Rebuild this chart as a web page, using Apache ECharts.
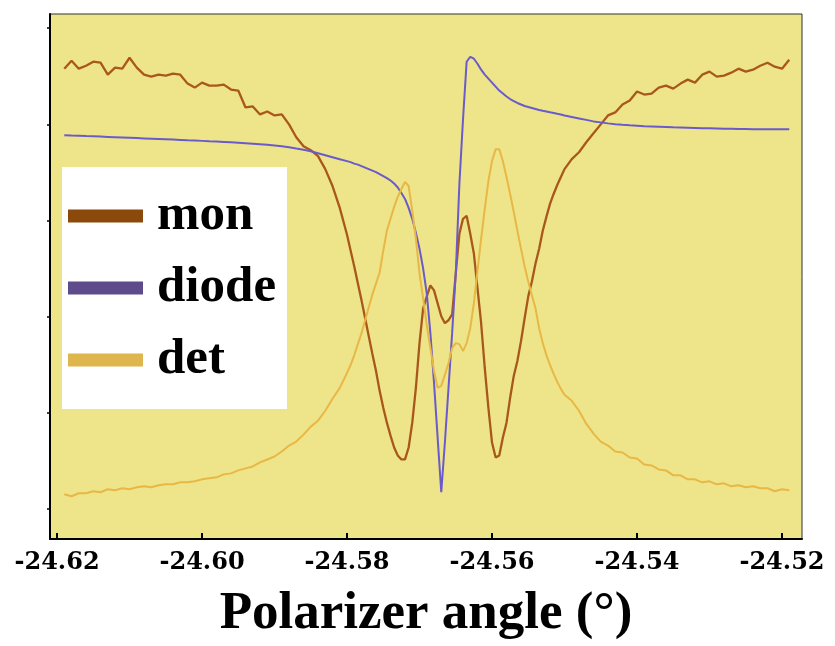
<!DOCTYPE html>
<html><head><meta charset="utf-8">
<script src="https://cdn.jsdelivr.net/npm/echarts@6/dist/echarts.min.js"></script>
<style>html,body{margin:0;padding:0;background:#fff}#c{width:835px;height:646px}</style>
</head><body><div id="c"></div>
<script>
const angles=[-24.619,-24.618,-24.617,-24.616,-24.615,-24.614,-24.613,-24.612,-24.611,-24.610,-24.609,-24.608,-24.607,-24.606,-24.605,-24.604,-24.603,-24.602,-24.601,-24.600,-24.599,-24.598,-24.597,-24.596,-24.595,-24.594,-24.593,-24.592,-24.591,-24.590,-24.589,-24.588,-24.587,-24.586,-24.585,-24.584,-24.583,-24.582,-24.581,
-24.5800,-24.5795,-24.5790,-24.5785,-24.5780,-24.5775,-24.5770,-24.5765,-24.5760,-24.5755,-24.5750,-24.5745,-24.5740,-24.5735,-24.5730,-24.5725,-24.5720,-24.5715,-24.5710,-24.5705,-24.5700,-24.5695,-24.5690,-24.5685,-24.5680,-24.5675,-24.5670,-24.5665,-24.5660,-24.5655,-24.5650,-24.5645,-24.5640,-24.5635,-24.5630,-24.5625,-24.5620,-24.5615,-24.5610,-24.5605,-24.5600,-24.5595,-24.5590,-24.5585,-24.5580,-24.5575,-24.5570,-24.5565,-24.5560,-24.5555,-24.5550,-24.5545,-24.5540,-24.5535,-24.5530,-24.5525,-24.5520,-24.5515,-24.5510,-24.5505,-24.5500,
-24.549,-24.548,-24.547,-24.546,-24.545,-24.544,-24.543,-24.542,-24.541,-24.540,-24.539,-24.538,-24.537,-24.536,-24.535,-24.534,-24.533,-24.532,-24.531,-24.530,-24.529,-24.528,-24.527,-24.526,-24.525,-24.524,-24.523,-24.522,-24.521,-24.520,-24.519];
const mon=[47.3,48.1,47.3,47.6,48.0,47.9,46.7,47.4,47.3,48.4,47.4,46.7,46.5,46.7,46.6,46.8,46.7,45.8,45.4,45.9,45.6,45.6,45.7,45.2,45.1,43.4,43.5,42.7,43.0,42.6,42.7,41.7,40.4,39.5,39.1,38.5,37.2,35.5,33.3,
30.6,29.0,27.4,25.7,24.0,22.2,20.4,18.6,16.9,14.9,13.2,11.7,10.4,9.2,8.4,8.0,8.0,9.2,11.7,15.2,19.7,23.2,24.4,25.5,25.0,23.7,22.4,21.7,22.0,22.6,26.7,30.7,32.2,32.5,30.7,28.7,25.2,21.7,17.2,13.2,9.7,8.2,8.4,10.2,11.7,14.2,16.4,17.9,19.9,22.2,24.4,25.9,27.7,29.2,31.0,32.4,33.7,34.7,35.6,36.4,37.2,
38.2,38.9,39.9,40.8,41.7,42.6,42.9,43.7,44.1,45.0,44.7,44.8,45.4,45.6,45.3,45.8,46.2,45.9,46.7,47.0,46.5,46.6,46.9,47.3,47.0,47.2,47.6,47.9,47.5,47.3,48.2];
const diode=[40.6,40.57,40.55,40.52,40.5,40.47,40.44,40.41,40.38,40.35,40.32,40.29,40.26,40.23,40.2,40.17,40.14,40.1,40.07,40.04,40.0,39.97,39.93,39.89,39.85,39.8,39.75,39.7,39.64,39.57,39.5,39.4,39.27,39.15,39.0,38.8,38.6,38.4,38.2,
38.0,37.9,37.75,37.65,37.5,37.35,37.2,37.05,36.9,36.7,36.5,36.3,36.05,35.75,35.35,34.8,34.2,33.3,32.2,30.8,29.2,27.2,24.7,20.7,15.7,10.2,4.7,9.7,15.2,20.7,26.7,35.7,42.2,48.0,48.5,48.3,47.8,47.2,46.7,46.3,45.9,45.5,45.1,44.8,44.5,44.25,44.05,43.85,43.7,43.55,43.45,43.35,43.25,43.15,43.07,43.0,42.92,42.85,42.77,42.7,42.6,
42.45,42.3,42.15,42.0,41.9,41.8,41.72,41.65,41.6,41.56,41.52,41.49,41.46,41.43,41.4,41.38,41.36,41.34,41.32,41.3,41.28,41.26,41.25,41.24,41.23,41.22,41.21,41.2,41.2,41.2,41.2];
const det=[4.5,4.3,4.6,4.6,4.8,4.7,5.0,4.9,5.1,5.0,5.2,5.3,5.2,5.4,5.5,5.5,5.7,5.7,5.8,6.0,6.1,6.2,6.5,6.6,6.9,7.1,7.3,7.7,8.0,8.3,8.8,9.4,9.8,10.5,11.3,11.9,12.9,14.1,15.2,
16.7,17.5,18.5,19.6,20.7,22.0,23.3,24.6,25.7,26.8,29.0,31.0,32.2,33.4,34.4,35.2,35.9,35.5,33.0,30.2,26.7,24.2,21.5,19.2,16.9,15.2,15.4,16.5,17.7,19.2,19.7,19.6,18.9,19.7,21.2,23.7,27.0,30.2,33.2,36.0,38.0,39.2,39.2,38.0,36.4,34.7,32.9,31.0,29.2,27.4,25.9,24.5,23.2,21.2,19.7,18.5,17.5,16.6,15.8,15.1,14.5,
13.9,12.9,11.6,10.6,9.8,9.4,8.8,8.7,8.2,8.1,7.5,7.4,7.0,6.9,6.4,6.4,6.0,6.0,5.7,5.8,5.5,5.6,5.3,5.4,5.2,5.3,5.1,5.1,4.8,5.0,4.9];
const xTicks=[-24.62,-24.60,-24.58,-24.56,-24.54,-24.52];
const yTicks=[3,12.7,22.4,32.0,41.7,51.4];

const pairs=v=>angles.map((a,i)=>[a,v[i]]);
const chart=echarts.init(document.getElementById('c'),null,{renderer:'canvas'});
chart.setOption({
  animation:false,
  backgroundColor:'#fff',
  grid:{left:50,right:33,top:14,bottom:104,show:true,backgroundColor:'#EEE48A',borderColor:'#333',borderWidth:1},
  legend:{
    data:[{name:'mon',itemStyle:{color:'#8B4A0B'}},{name:'diode',itemStyle:{color:'#5E4B8B'}},{name:'det',itemStyle:{color:'#DFB54E'}}],
    orient:'vertical',left:62,top:167,backgroundColor:'#fff',padding:[23,11,23,6],
    itemWidth:75,itemHeight:13,itemGap:20,icon:'rect',selectedMode:false,
    itemStyle:{borderWidth:0},
    textStyle:{fontFamily:'Liberation Serif',fontWeight:'bold',fontSize:51,lineHeight:52,color:'#000',padding:[0,0,0,9]}
  },
  xAxis:{type:'value',min:-24.62097,max:-24.51724,
    axisLine:{show:true,onZero:false,lineStyle:{color:'#000',width:2}},
    axisTick:{show:true,inside:true,length:6,customValues:xTicks,lineStyle:{color:'#000',width:2}},
    axisLabel:{customValues:xTicks,formatter:v=>v.toFixed(2),color:'#000',fontFamily:'DejaVu Serif',fontWeight:'bold',fontSize:24,margin:12},
    splitLine:{show:false},
    name:'Polarizer angle (°)',nameLocation:'middle',nameGap:49,
    nameTextStyle:{fontFamily:'Liberation Serif',fontWeight:'bold',fontSize:53,color:'#000'}
  },
  yAxis:{type:'value',min:0,max:52.8,
    axisLine:{show:true,onZero:false,lineStyle:{color:'#000',width:2}},
    axisTick:{show:true,length:3,customValues:yTicks,lineStyle:{color:'#000',width:1.5}},
    axisLabel:{show:false},splitLine:{show:false}
  },
  series:[
    {name:'mon',type:'line',data:pairs(mon),symbol:'none',showSymbol:false,lineStyle:{color:'#A9581C',width:2.3},itemStyle:{color:'#8B4A0B'}},
    {name:'diode',type:'line',data:pairs(diode),symbol:'none',showSymbol:false,lineStyle:{color:'#6A5BCB',width:2},itemStyle:{color:'#5E4B8B'}},
    {name:'det',type:'line',data:pairs(det),symbol:'none',showSymbol:false,lineStyle:{color:'#E8B846',width:2},itemStyle:{color:'#DFB54E'}}
  ]
});
</script></body></html>
